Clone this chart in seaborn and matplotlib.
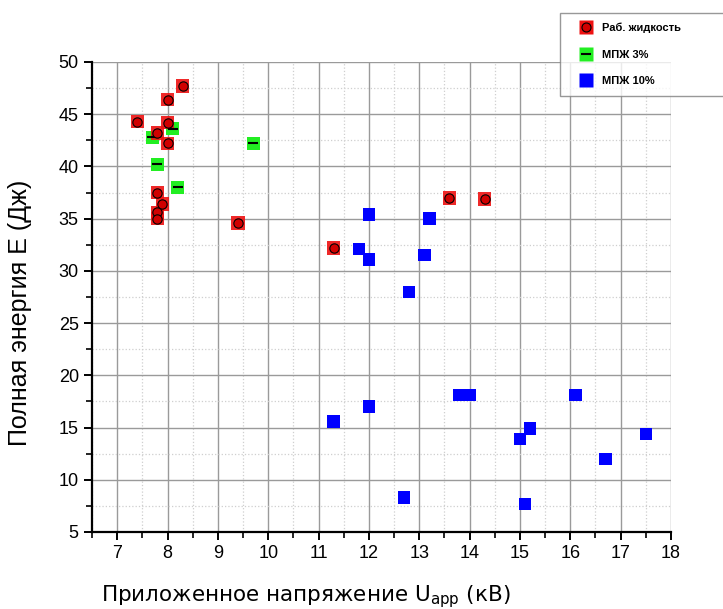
import numpy as np
import pandas as pd
import matplotlib
matplotlib.use("Agg")
import matplotlib.pyplot as plt
from matplotlib.ticker import MultipleLocator
from matplotlib.lines import Line2D
import seaborn as sns

# Раб. жидкость
work_u = [8.3, 8.0, 7.4, 8.0, 7.8, 8.0, 7.8, 7.9, 7.8, 7.8, 9.4, 11.3, 13.6, 14.3]
work_e = [47.7, 46.4, 44.3, 44.2, 43.2, 42.2, 37.5, 36.4, 35.6, 35.0, 34.6, 32.2, 37.0, 36.9]

# МПЖ 3%
mpzh3_u = [7.7, 8.1, 7.8, 8.2, 9.7]
mpzh3_e = [42.8, 43.6, 40.2, 38.0, 42.2]

# МПЖ 10%
mpzh10_u = [12.0, 13.2, 11.8, 12.0, 13.1, 12.8, 11.3, 12.0, 13.8, 14.0, 16.1,
            15.2, 15.0, 17.5, 16.7, 12.7, 15.1]
mpzh10_e = [35.4, 35.0, 32.1, 31.1, 31.5, 28.0, 15.6, 17.0, 18.1, 18.1, 18.1,
            14.9, 13.9, 14.4, 12.0, 8.3, 7.7]

labels = ["Раб. жидкость", "МПЖ 3%", "МПЖ 10%"]

df_work = pd.DataFrame({"U": work_u, "E": work_e})
df_3 = pd.DataFrame({"U": mpzh3_u, "E": mpzh3_e})
df_10 = pd.DataFrame({"U": mpzh10_u, "E": mpzh10_e})

sns.set_style("white")
plt.rcParams["font.family"] = ["Liberation Sans", "DejaVu Sans"]
plt.rcParams["text.color"] = "black"
plt.rcParams["axes.labelcolor"] = "black"
plt.rcParams["xtick.color"] = "black"
plt.rcParams["ytick.color"] = "black"

fig = plt.figure(figsize=(7.23, 6.09), dpi=100)
ax = fig.add_axes([92 / 723, 77 / 609, 579 / 723, 470 / 609])

red_sq = "#ee1111"
red_dot = "#d00000"
green = "#22ee22"
blue = "#0000ff"

sns.scatterplot(data=df_10, x="U", y="E", ax=ax, marker="s", s=80,
                color=blue, edgecolor="none", zorder=3)
sns.scatterplot(data=df_3, x="U", y="E", ax=ax, marker="s", s=90,
                color=green, edgecolor="none", zorder=3)
sns.scatterplot(data=df_3, x="U", y="E", ax=ax, marker="_", s=50,
                color="black", linewidth=1.5, zorder=4)
sns.scatterplot(data=df_work, x="U", y="E", ax=ax, marker="s", s=95,
                color=red_sq, edgecolor="none", alpha=0.9, zorder=3)
sns.scatterplot(data=df_work, x="U", y="E", ax=ax, marker="o", s=45,
                color=red_dot, edgecolor="black", linewidth=0.8, zorder=4)

ax.set_xlim(6.5, 18)
ax.set_ylim(5, 50)
ax.xaxis.set_major_locator(MultipleLocator(1))
ax.xaxis.set_minor_locator(MultipleLocator(0.5))
ax.yaxis.set_major_locator(MultipleLocator(5))
ax.yaxis.set_minor_locator(MultipleLocator(2.5))

ax.grid(which="major", color="#9a9a9a", linestyle="-", linewidth=1.0)
ax.grid(which="minor", color="#cfcfcf", linestyle=":", linewidth=0.9)
ax.set_axisbelow(True)

for side in ["top", "right"]:
    ax.spines[side].set_visible(False)
for side in ["left", "bottom"]:
    ax.spines[side].set_color("black")
    ax.spines[side].set_linewidth(1.6)

ax.tick_params(which="major", direction="out", length=6, width=1.4,
               color="black", labelsize=13, left=True, bottom=True)
ax.tick_params(which="minor", direction="out", length=4, width=1.2,
               color="black", left=True, bottom=True)

ax.set_xlabel(r"Приложенное напряжение U$_{\mathregular{app}}$ (кВ)",
              fontsize=15.5, family=["DejaVu Sans"])
ax.xaxis.set_label_coords((306 - 92) / 579, -0.11)
ax.set_ylabel("Полная энергия E (Дж)", fontsize=18)
ax.yaxis.set_label_coords(-0.104, (609 - 313 - 77) / 470)

handles = [
    (Line2D([], [], marker="s", linestyle="none", markersize=9.5,
            markerfacecolor=red_sq, markeredgecolor="none"),
     Line2D([], [], marker="o", linestyle="none", markersize=6.5,
            markerfacecolor=red_dot, markeredgecolor="black", markeredgewidth=0.8)),
    (Line2D([], [], marker="s", linestyle="none", markersize=9.5,
            markerfacecolor=green, markeredgecolor="none"),
     Line2D([], [], marker="_", linestyle="none", markersize=7,
            color="black", markeredgewidth=1.5)),
    Line2D([], [], marker="s", linestyle="none", markersize=9.5,
           markerfacecolor=blue, markeredgecolor="none"),
]
leg = fig.legend(handles, labels, loc="upper left",
                 bbox_to_anchor=(560 / 723, 0, 0.3, 1 - 13 / 609),
                 mode="expand", frameon=True, fancybox=False,
                 prop={"size": 8, "weight": "bold", "family": "Liberation Sans"},
                 labelspacing=1.5, handlelength=2.9, handletextpad=0.0,
                 borderpad=0.85, borderaxespad=0)
leg.get_frame().set_edgecolor("#7f7f7f")
leg.get_frame().set_linewidth(1.0)

fig.savefig("out.png", dpi=100)
